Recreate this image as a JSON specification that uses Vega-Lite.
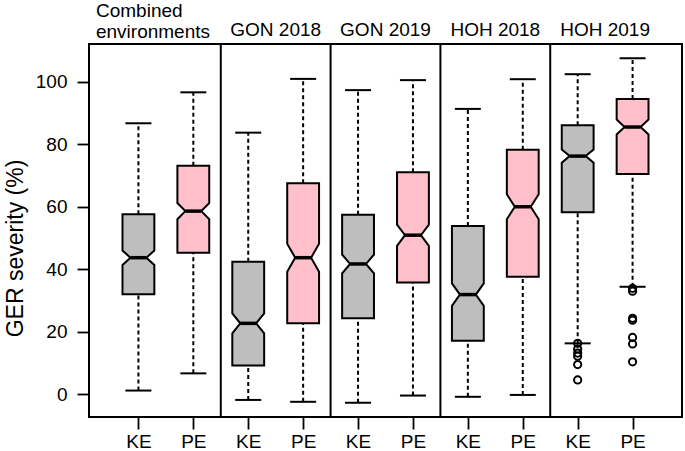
{
  "$schema": "https://vega.github.io/schema/vega-lite/v6.json",
  "width": 593,
  "height": 373,
  "autosize": {"type": "none"},
  "padding": {"left": 89, "top": 44, "right": 3, "bottom": 34},
  "background": "white",
  "config": {
    "view": {"stroke": "black", "strokeWidth": 2},
    "font": "Liberation Sans",
    "axis": {"labelFont": "Liberation Sans", "titleFont": "Liberation Sans", "labelColor": "black", "titleColor": "black", "tickColor": "black", "tickWidth": 1.8, "grid": false, "domain": false, "labelOverlap": false, "labelFlush": false, "labelBound": false}
  },
  "datasets": {
    "boxes": [
      {"env": "Combined environments", "grp": "KE", "idx": 1, "lw": 1.2, "q1": 32.0, "nlo": 41.4, "med": 43.7, "nhi": 46.0, "q3": 57.6, "uw": 86.7},
      {"env": "Combined environments", "grp": "PE", "idx": 2, "lw": 6.7, "q1": 45.3, "nlo": 56.0, "med": 58.6, "nhi": 61.2, "q3": 73.1, "uw": 96.6},
      {"env": "GON 2018", "grp": "KE", "idx": 3, "lw": -1.8, "q1": 9.2, "nlo": 19.5, "med": 22.7, "nhi": 25.9, "q3": 42.4, "uw": 83.7},
      {"env": "GON 2018", "grp": "PE", "idx": 4, "lw": -2.4, "q1": 22.7, "nlo": 39.2, "med": 43.7, "nhi": 48.2, "q3": 67.5, "uw": 100.9},
      {"env": "GON 2019", "grp": "KE", "idx": 5, "lw": -2.7, "q1": 24.3, "nlo": 38.7, "med": 41.7, "nhi": 44.7, "q3": 57.4, "uw": 97.3},
      {"env": "GON 2019", "grp": "PE", "idx": 6, "lw": -0.4, "q1": 35.8, "nlo": 47.5, "med": 50.9, "nhi": 54.3, "q3": 71.0, "uw": 100.5},
      {"env": "HOH 2018", "grp": "KE", "idx": 7, "lw": -0.8, "q1": 17.1, "nlo": 28.3, "med": 31.9, "nhi": 35.5, "q3": 53.8, "uw": 91.3},
      {"env": "HOH 2018", "grp": "PE", "idx": 8, "lw": -0.2, "q1": 37.6, "nlo": 56.0, "med": 60.0, "nhi": 64.0, "q3": 78.2, "uw": 100.8},
      {"env": "HOH 2019", "grp": "KE", "idx": 9, "lw": 16.3, "q1": 58.2, "nlo": 74.1, "med": 76.2, "nhi": 78.3, "q3": 86.1, "uw": 102.4},
      {"env": "HOH 2019", "grp": "PE", "idx": 10, "lw": 34.4, "q1": 70.5, "nlo": 83.1, "med": 85.5, "nhi": 87.9, "q3": 94.5, "uw": 107.5}
    ],
    "outliers": [
      {"env": "HOH 2019", "grp": "KE", "idx": 9, "v": 16.3},
      {"env": "HOH 2019", "grp": "KE", "idx": 9, "v": 14.5},
      {"env": "HOH 2019", "grp": "KE", "idx": 9, "v": 13.2},
      {"env": "HOH 2019", "grp": "KE", "idx": 9, "v": 12.2},
      {"env": "HOH 2019", "grp": "KE", "idx": 9, "v": 9.5},
      {"env": "HOH 2019", "grp": "KE", "idx": 9, "v": 4.6},
      {"env": "HOH 2019", "grp": "PE", "idx": 10, "v": 33.9},
      {"env": "HOH 2019", "grp": "PE", "idx": 10, "v": 33.0},
      {"env": "HOH 2019", "grp": "PE", "idx": 10, "v": 24.3},
      {"env": "HOH 2019", "grp": "PE", "idx": 10, "v": 23.7},
      {"env": "HOH 2019", "grp": "PE", "idx": 10, "v": 18.2},
      {"env": "HOH 2019", "grp": "PE", "idx": 10, "v": 16.1},
      {"env": "HOH 2019", "grp": "PE", "idx": 10, "v": 10.4}
    ]
  },
  "layer": [
    {
      "data": {"name": "boxes"},
      "transform": [{"filter": "datum.grp === 'PE' && datum.idx < 10"}, {"calculate": "datum.idx + 0.5", "as": "b"}],
      "mark": {"type": "rule", "color": "black", "strokeWidth": 2},
      "encoding": {
        "x": {"field": "b", "type": "quantitative", "scale": {"domain": [0.1, 10.9], "nice": false, "zero": false},
          "axis": {"values": [1, 2, 3, 4, 5, 6, 7, 8, 9, 10], "labelExpr": "datum.value % 2 == 1 ? 'KE' : 'PE'", "labelFontSize": 19, "tickSize": 12, "labelPadding": 3, "title": null}}
      }
    },
    {
      "data": {"name": "boxes"},
      "mark": {"type": "rule", "color": "black", "strokeWidth": 2, "strokeDash": [4, 3]},
      "encoding": {
        "x": {"field": "idx", "type": "quantitative"},
        "y": {"field": "q3", "type": "quantitative", "scale": {"domain": [-7.26, 112.06], "nice": false, "zero": false},
          "axis": {"values": [0, 20, 40, 60, 80, 100], "labelFontSize": 19, "tickSize": 12, "labelPadding": 10, "title": "GER severity (%)", "titleFontSize": 23, "titleFontWeight": "normal", "titlePadding": 8, "titleY": 204}},
        "y2": {"field": "uw"}
      }
    },
    {
      "data": {"name": "boxes"},
      "mark": {"type": "rule", "color": "black", "strokeWidth": 2, "strokeDash": [4, 3]},
      "encoding": {
        "x": {"field": "idx", "type": "quantitative"},
        "y": {"field": "lw", "type": "quantitative"},
        "y2": {"field": "q1"}
      }
    },
    {
      "data": {"name": "boxes"},
      "transform": [
        {"fold": ["q1", "nlo", "med", "nhi", "q3"], "as": ["k", "v"]},
        {"calculate": "datum.k === 'med' ? 0.145 : 0.29", "as": "half"},
        {"calculate": "datum.idx - datum.half", "as": "left"},
        {"calculate": "datum.idx + datum.half", "as": "right"}
      ],
      "mark": {"type": "area", "orient": "horizontal", "stroke": "black", "strokeWidth": 2, "strokeJoin": "miter", "interpolate": "linear", "opacity": 1, "fillOpacity": 1},
      "encoding": {
        "y": {"field": "v", "type": "quantitative"},
        "x": {"field": "left", "type": "quantitative", "stack": null},
        "x2": {"field": "right"},
        "fill": {"field": "grp", "type": "nominal", "scale": {"domain": ["KE", "PE"], "range": ["#BEBEBE", "#FFC0CB"]}, "legend": null},
        "detail": {"field": "idx", "type": "nominal"}
      }
    },
    {
      "data": {"name": "boxes"},
      "mark": {"type": "tick", "orient": "horizontal", "color": "black", "size": 16, "thickness": 3.5, "opacity": 1},
      "encoding": {
        "x": {"field": "idx", "type": "quantitative"},
        "y": {"field": "med", "type": "quantitative"}
      }
    },
    {
      "data": {"name": "boxes"},
      "mark": {"type": "tick", "orient": "horizontal", "color": "black", "size": 26, "thickness": 2, "opacity": 1},
      "encoding": {
        "x": {"field": "idx", "type": "quantitative"},
        "y": {"field": "uw", "type": "quantitative"}
      }
    },
    {
      "data": {"name": "boxes"},
      "mark": {"type": "tick", "orient": "horizontal", "color": "black", "size": 26, "thickness": 2, "opacity": 1},
      "encoding": {
        "x": {"field": "idx", "type": "quantitative"},
        "y": {"field": "lw", "type": "quantitative"}
      }
    },
    {
      "data": {"name": "outliers"},
      "mark": {"type": "point", "shape": "circle", "filled": false, "stroke": "black", "strokeWidth": 2, "size": 52, "opacity": 1},
      "encoding": {
        "x": {"field": "idx", "type": "quantitative"},
        "y": {"field": "v", "type": "quantitative"}
      }
    },
    {
      "data": {"name": "boxes"},
      "transform": [
        {"filter": "datum.env !== 'Combined environments'"},
        {"aggregate": [{"op": "mean", "field": "idx", "as": "mid"}], "groupby": ["env"]}
      ],
      "mark": {"type": "text", "fontSize": 19, "color": "black", "baseline": "alphabetic", "align": "center"},
      "encoding": {
        "x": {"field": "mid", "type": "quantitative"},
        "y": {"datum": 114.6, "type": "quantitative"},
        "text": {"field": "env"}
      }
    },
    {
      "data": {"values": [{}]},
      "mark": {"type": "text", "fontSize": 19, "color": "black", "baseline": "alphabetic", "align": "left", "lineHeight": 21, "text": ["Combined", "environments"]},
      "encoding": {
        "x": {"datum": 0.227, "type": "quantitative"},
        "y": {"datum": 120.8, "type": "quantitative"}
      }
    }
  ]
}
